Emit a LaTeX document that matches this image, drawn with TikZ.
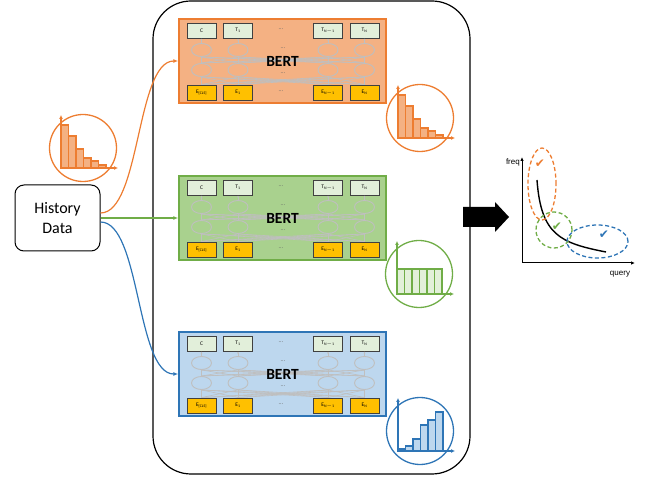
\documentclass[tikz,border=0pt]{standalone}
\usepackage{fontspec}
\setmainfont{Carlito}
\newfontfamily\arialfont{Liberation Sans}
\newfontfamily\symfont{DejaVu Sans}
\usetikzlibrary{arrows.meta,shapes.geometric}
\definecolor{orangeline}{HTML}{ED7D31}
\definecolor{orangefill}{HTML}{F4B183}
\definecolor{greenline}{HTML}{70AD47}
\definecolor{greenfill}{HTML}{A9D18E}
\definecolor{greenbar}{HTML}{E2F0D9}
\definecolor{blueline}{HTML}{2E75B6}
\definecolor{bluefill}{HTML}{BDD7EE}
\definecolor{tokfill}{HTML}{E2EFDA}
\definecolor{embfill}{HTML}{FFC000}
\definecolor{netgray}{HTML}{BFBFBF}
\tikzset{
  block/.style={draw, line width=1.5pt, minimum width=207pt, minimum height=84pt},
  tok/.style={draw=black!75, fill=tokfill, line width=0.9pt, minimum width=29pt, minimum height=15pt, inner sep=0pt, font=\fontsize{5.5}{6}\selectfont},
  emb/.style={tok, fill=embfill},
  neuron/.style={ellipse, draw=netgray, line width=0.9pt, minimum width=20pt, minimum height=13pt, inner sep=0pt},
  net/.style={draw=netgray, line width=0.6pt},
  dots/.style={font=\fontsize{6}{6}\selectfont, text=black!60},
  feed/.style={line width=1.2pt, -{Latex[length=5pt,width=4pt]}},
  distc/.style={circle, line width=1.3pt, minimum size=67pt, inner sep=0pt},
  bar/.style={line width=1.2pt},
  zone/.style={line width=1.3pt, dash pattern=on 4pt off 2.5pt},
  check/.style={font=\symfont\fontsize{12}{12}\selectfont},
  axislabel/.style={font=\arialfont\fontsize{8}{9}\selectfont, inner sep=1pt}
}
\begin{document}
\begin{tikzpicture}[x=1pt, y=-1pt]
\useasboundingbox (0,0) rectangle (646,478);
\node(model)[draw, line width=1.2pt, rounded corners=38pt, minimum width=317pt, minimum height=473pt] at (311.5,237.5) {};
\node(hist)[draw, line width=1pt, rounded corners=9pt, minimum width=85pt, minimum height=66pt, align=center, font=\fontsize{16}{20}\selectfont] at (57.5,218) {History\\Data};

% three BERT blocks
\foreach \bl/\y/\ln/\fl in {o/19/orangeline/orangefill, g/176/greenline/greenfill, b/332/blueline/bluefill} {
  \node(\bl)[block, draw=\ln, fill=\fl] at (282.5,\y+42) {};
  \foreach \x/\t/\e [count=\n] in {201.5/C/E\textsubscript{[CLS]}, 238/T\textsubscript{1}/E\textsubscript{1}, 328/T\textsubscript{N$-$1}/E\textsubscript{N$-$1}, 364.5/T\textsubscript{N}/E\textsubscript{N}} {
    \node(\bl-t\n)[tok] at (\x,\y+11.5) {\t};
    \node(\bl-e\n)[emb] at (\x,\y+73.5) {\e};
    \node(\bl-h\n)[neuron] at (\x,\y+31) {};
    \node(\bl-k\n)[neuron] at (\x,\y+51) {};
  }
  \foreach \i in {1,...,4} {
    \draw[net, -{Latex[length=2pt,width=2pt]}] (\bl-h\i) -- (\bl-t\i);
    \foreach \j in {1,...,4} {
      \draw[net] (\bl-k\i.north) -- (\bl-h\j.south);
      \draw[net] (\bl-e\i.north) -- (\bl-k\j.south);
    }
  }
  \node[dots] at (281,\y+10) {...};
  \node[dots] at (281,\y+72) {...};
  \node[dots] at (283,\y+29) {...};
  \node[dots] at (283,\y+54) {...};
  \node[font=\bfseries\fontsize{15.5}{16}\selectfont] at (\bl) {BERT};
}

\draw[feed, orangeline] ([yshift=5pt]hist.east) .. controls +(40,0) and +(-42,0) .. (o.west);
\draw[feed, greenline] (hist.east) -- (g.west);
\draw[feed, blueline] ([yshift=-4pt]hist.east) .. controls +(40,0) and +(-42,0) .. (b.west);

% distributions
\foreach \n/\p/\ln/\fl/\hs in {hc/{83,148}/orangeline/orangefill/{43,32,19,10,7,3}, oc/{420,118}/orangeline/orangefill/{43,32,19,10,7,3}, gc/{419,274}/greenline/greenbar/{25,25,25,25,25,25}, bc/{420,431}/blueline/bluefill/{2,5,12,26,31,39}} {
  \node(\n)[distc, draw=\ln] at (\p) {};
  \foreach \h [count=\i from 0] in \hs
    \draw[bar, draw=\ln, fill=\fl] ([shift={(-22+\i*7.5,20)}]\n.center) rectangle ++(7.5,-\h);
  \draw[bar, draw=\ln, {Latex[length=4pt,width=4pt]}-{Latex[length=4pt,width=4pt]}] ([shift={(-22,-33)}]\n.center) |- ([shift={(35,20)}]\n.center);
}

% big arrow
\fill (463,207) -- (495,207) -- (495,202) -- (509,217) -- (495,232) -- (495,227) -- (463,227) -- cycle;

% frequency chart
\coordinate(ytop) at (522,157);
\coordinate(xend) at (635,263);
\draw[line width=1pt, {Latex[length=4pt,width=3.5pt]}-{Latex[length=4pt,width=3.5pt]}] (ytop) |- (xend);
\node(freq)[axislabel, left] at (521,162) {freq};
\node(query)[axislabel] at (620,274) {query};
\draw[line width=1.4pt] (537,180) .. controls (541,235) and (560,243) .. (606,252);
\draw[zone, orangeline] (542,184) ellipse [x radius=14pt, y radius=36pt];
\draw[zone, greenline] (554,230) circle [radius=18pt];
\draw[zone, blueline] (597.5,241.5) ellipse [x radius=30.5pt, y radius=16.5pt];
\node(ck1)[check, text=orangeline] at (540,164) {✔};
\node(ck2)[check, text=greenline] at (557,227) {✔};
\node(ck3)[check, text=blueline] at (604,235) {✔};
\end{tikzpicture}
\end{document}
